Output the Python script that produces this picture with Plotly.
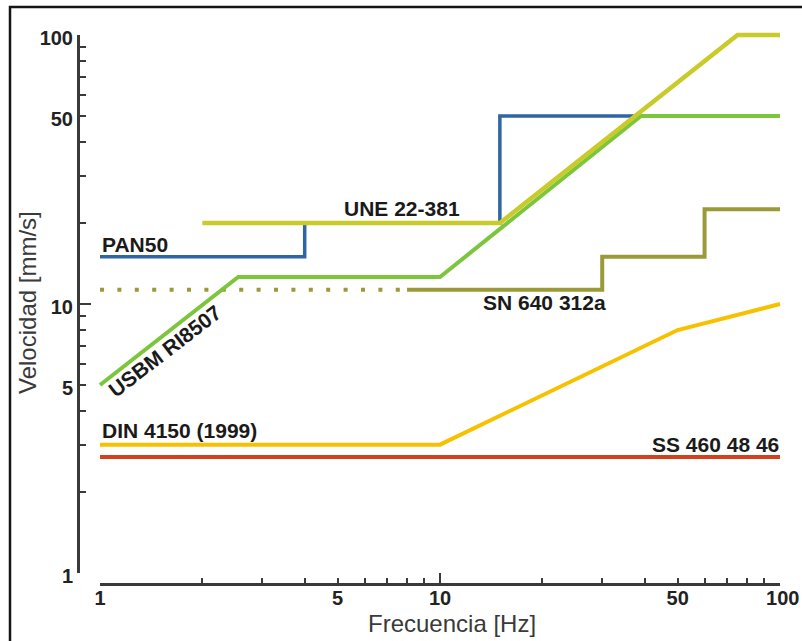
import plotly.graph_objects as go

W, H = 802, 641

# ---------------- data ----------------
pan50_x = [1, 4, 4, 15, 15, 100]
pan50_y = [15, 15, 20, 20, 50, 50]
une_x = [2, 15, 75, 100]
une_y = [20, 20, 100, 100]
usbm_x = [1, 2.55, 10, 39, 100]
usbm_y = [5, 12.6, 12.6, 50, 50]
sn_dot_x = [1, 8]
sn_dot_y = [11.3, 11.3]
sn_x = [8, 30, 30, 60, 60, 100]
sn_y = [11.3, 11.3, 15, 15, 22.5, 22.5]
din_x = [1, 10, 50, 100]
din_y = [3, 3, 8, 10]
ss_x = [1, 100]
ss_y = [2.7, 2.7]

tick_vals = [1, 2, 3, 4, 5, 6, 7, 8, 9, 10, 20, 30, 40, 50, 60, 70, 80, 90, 100]
tick_text = ['1', '', '', '', '5', '', '', '', '', '10', '', '', '', '50', '', '', '', '', '100']
x_tick_text = ['1', '', '', '', '5', '', '', '', '', '10', '', '', '', '50', '', '', '', '', '\u00a0100']
major_vals = [1, 10, 100]

labels = [
    # text, px x, px y, xanchor, angle
    ("PAN50", 100, 244, "left", 0),
    ("UNE 22-381", 402, 208, "center", 0),
    ("SN 640 312a", 544, 303, "center", 0),
    ("DIN 4150 (1999)", 100, 431, "left", 0),
    ("SS 460 48 46", 781, 444, "right", 0),
    ("USBM RI8507", 164, 351, "center", -37.5),
]

# ---------------- geometry (pixels) ----------------
XL, XR = 100, 780      # x = 1 .. 100
YB, YT = 573, 35       # y = 1 .. 100
XAXIS_Y = 584
YAXIS_X = 78
xdec = (XR - XL) / 2.0
ydec = (YB - YT) / 2.0
pad = 12
ex = pad / xdec
ey = pad / ydec

def px(x):
    return x / W

def py(y):
    return 1 - y / H

C_BLUE = "#2f65a3"
C_UNE = "#c8cb2a"
C_GREEN = "#7cc63c"
C_SN = "#9a9a38"
C_DIN = "#f7c100"
C_SS = "#d2401c"

fig = go.Figure()

def add_line(x, y, color, width=3.5, dash="solid"):
    fig.add_trace(go.Scatter(x=x, y=y, mode="lines",
                             line=dict(color=color, width=width, dash=dash),
                             hoverinfo="skip", showlegend=False,
                             xaxis="x", yaxis="y"))

add_line(ss_x, ss_y, C_SS, 4)
add_line(din_x, din_y, C_DIN, 4)
add_line(sn_dot_x, sn_dot_y, C_SN, 4, dash="4px,13.4px")
add_line(sn_x, sn_y, C_SN, 4)
add_line(pan50_x, pan50_y, C_BLUE, 3.5)
add_line(usbm_x, usbm_y, C_GREEN, 4)
add_line(une_x, une_y, C_UNE, 4.5)

# dummy (invisible) traces to instantiate the display axes
fig.add_trace(go.Scatter(x=[1, 100], y=[1, 100], mode="none", hoverinfo="skip",
                         showlegend=False, xaxis="x2", yaxis="y2"))
fig.add_trace(go.Scatter(x=[1, 100], y=[1, 100], mode="none", hoverinfo="skip",
                         showlegend=False, xaxis="x3", yaxis="y3"))

tickfont = dict(family="Liberation Sans", size=20, color="#222222", weight="bold")
AX = "#3a3a3a"

annotations = []
for text, x, y, xa, ang in labels:
    annotations.append(dict(text=text, x=px(x), y=py(y), xref="paper", yref="paper",
                            xanchor=xa, yanchor="middle", showarrow=False, textangle=ang,
                            font=dict(family="Liberation Sans", size=21, color="#1a1a1a",
                                      weight="bold")))
annotations.append(dict(text="Frecuencia [Hz]", x=px(452), y=py(623), xref="paper", yref="paper",
                        xanchor="center", yanchor="middle", showarrow=False,
                        font=dict(family="Liberation Sans", size=24, color="#3a3a3a")))
annotations.append(dict(text="Velocidad [mm/s]", x=px(28), y=py(303), xref="paper", yref="paper",
                        xanchor="center", yanchor="middle", showarrow=False, textangle=-90,
                        font=dict(family="Liberation Sans", size=24, color="#3a3a3a")))

fig.update_layout(
    template="none",
    width=W, height=H, autosize=False,
    margin=dict(l=0, r=0, t=0, b=0, pad=0),
    paper_bgcolor="white", plot_bgcolor="rgba(0,0,0,0)",
    showlegend=False,
    xaxis=dict(type="log", range=[-ex, 2 + ex], automargin=False,
               domain=[px(XL - pad), px(XR + pad)], visible=False,
               anchor="y", fixedrange=True),
    yaxis=dict(type="log", range=[-ey, 2 + ey], automargin=False,
               domain=[py(YB + pad), py(YT - pad)], visible=False,
               anchor="x", fixedrange=True),
    xaxis2=dict(type="log", range=[0, 2], domain=[px(XL), px(XR)], automargin=False,
                anchor="free", position=py(XAXIS_Y),
                showline=True, linecolor=AX, linewidth=3,
                ticks="inside", ticklen=5, tickwidth=2, tickcolor=AX,
                tickmode="array", tickvals=tick_vals, ticktext=x_tick_text,
                tickfont=tickfont, tickangle=0,
                ticklabelstandoff=-5, ticklabeloverflow="allow",
                showgrid=False, zeroline=False, fixedrange=True),
    yaxis2=dict(type="log", range=[0, 2], domain=[py(YB), py(YT)], automargin=False,
                anchor="free", position=px(YAXIS_X),
                showline=True, linecolor=AX, linewidth=3,
                ticks="inside", ticklen=6, tickwidth=2, tickcolor=AX,
                tickmode="array", tickvals=tick_vals, ticktext=tick_text,
                tickfont=tickfont, ticklabelshift=3, ticklabeloverflow="allow",
                showgrid=False, zeroline=False, fixedrange=True),
    xaxis3=dict(type="log", range=[0, 2], overlaying="x2", automargin=False,
                anchor="free", position=py(XAXIS_Y),
                showline=False, ticks="inside", ticklen=11, tickwidth=2, tickcolor=AX,
                tickmode="array", tickvals=major_vals, showticklabels=False,
                showgrid=False, zeroline=False, fixedrange=True),
    yaxis3=dict(type="log", range=[0, 2], overlaying="y2", automargin=False,
                anchor="free", position=px(YAXIS_X),
                showline=False, ticks="inside", ticklen=12, tickwidth=2, tickcolor=AX,
                tickmode="array", tickvals=major_vals, showticklabels=False,
                showgrid=False, zeroline=False, fixedrange=True),
    annotations=annotations,
    shapes=[dict(type="rect", xref="paper", yref="paper",
                 x0=px(10), x1=1.02, y0=-0.05, y1=py(7),
                 line=dict(color="#151515", width=2.5), layer="above")],
)

fig.write_html("out.html", config={"displayModeBar": False})
